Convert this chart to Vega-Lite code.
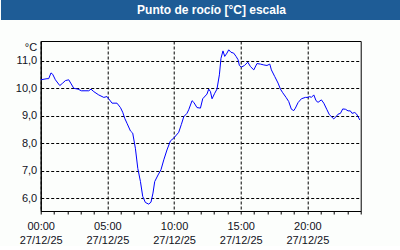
{
  "$schema": "https://vega.github.io/schema/vega-lite/v6.json",
  "background": "#FCFEFC",
  "padding": 0,
  "config": {
    "font": "Liberation Sans",
    "view": {"stroke": null},
    "axis": {"labelFont": "Liberation Sans", "titleFont": "Liberation Sans"}
  },
  "center": true,
  "spacing": 20,
  "datasets": {
    "rocio": [
      {"hora": 0.0, "rocio": 10.31},
      {"hora": 0.47, "rocio": 10.35},
      {"hora": 0.6, "rocio": 10.35},
      {"hora": 0.77, "rocio": 10.56},
      {"hora": 0.9, "rocio": 10.51},
      {"hora": 1.1, "rocio": 10.31},
      {"hora": 1.43, "rocio": 10.1},
      {"hora": 1.65, "rocio": 10.19},
      {"hora": 1.85, "rocio": 10.28},
      {"hora": 2.1, "rocio": 10.31},
      {"hora": 2.25, "rocio": 10.19},
      {"hora": 2.48, "rocio": 10.0},
      {"hora": 2.8, "rocio": 9.97},
      {"hora": 3.05, "rocio": 9.91},
      {"hora": 3.6, "rocio": 9.91},
      {"hora": 3.77, "rocio": 9.97},
      {"hora": 3.98, "rocio": 9.88},
      {"hora": 4.35, "rocio": 9.76},
      {"hora": 4.73, "rocio": 9.67},
      {"hora": 4.97, "rocio": 9.7},
      {"hora": 5.1, "rocio": 9.62},
      {"hora": 5.35, "rocio": 9.46},
      {"hora": 5.72, "rocio": 9.46},
      {"hora": 5.98, "rocio": 9.3},
      {"hora": 6.15, "rocio": 9.13},
      {"hora": 6.3, "rocio": 8.91},
      {"hora": 6.47, "rocio": 8.73},
      {"hora": 6.73, "rocio": 8.45},
      {"hora": 6.9, "rocio": 8.37},
      {"hora": 7.1, "rocio": 7.82},
      {"hora": 7.28, "rocio": 7.09},
      {"hora": 7.48, "rocio": 6.61},
      {"hora": 7.65, "rocio": 6.07},
      {"hora": 7.85, "rocio": 5.85},
      {"hora": 8.1, "rocio": 5.79},
      {"hora": 8.27, "rocio": 5.86},
      {"hora": 8.42, "rocio": 6.19},
      {"hora": 8.55, "rocio": 6.61},
      {"hora": 8.8, "rocio": 6.85},
      {"hora": 9.02, "rocio": 7.04},
      {"hora": 9.23, "rocio": 7.4},
      {"hora": 9.47, "rocio": 7.76},
      {"hora": 9.73, "rocio": 8.09},
      {"hora": 9.98, "rocio": 8.19},
      {"hora": 10.35, "rocio": 8.4},
      {"hora": 10.55, "rocio": 8.69},
      {"hora": 10.73, "rocio": 8.97},
      {"hora": 10.97, "rocio": 9.09},
      {"hora": 11.1, "rocio": 9.22},
      {"hora": 11.35, "rocio": 9.55},
      {"hora": 11.48, "rocio": 9.49},
      {"hora": 11.72, "rocio": 9.3},
      {"hora": 11.98, "rocio": 9.28},
      {"hora": 12.15, "rocio": 9.62},
      {"hora": 12.47, "rocio": 9.79},
      {"hora": 12.6, "rocio": 9.97},
      {"hora": 12.73, "rocio": 9.88},
      {"hora": 12.85, "rocio": 9.62},
      {"hora": 13.05, "rocio": 9.82},
      {"hora": 13.22, "rocio": 9.97},
      {"hora": 13.4, "rocio": 10.49},
      {"hora": 13.52, "rocio": 11.09},
      {"hora": 13.67, "rocio": 11.36},
      {"hora": 13.8, "rocio": 11.16},
      {"hora": 13.97, "rocio": 11.28},
      {"hora": 14.1, "rocio": 11.4},
      {"hora": 14.27, "rocio": 11.31},
      {"hora": 14.47, "rocio": 11.28},
      {"hora": 14.65, "rocio": 11.16},
      {"hora": 14.8, "rocio": 11.04},
      {"hora": 14.9, "rocio": 10.83},
      {"hora": 15.05, "rocio": 10.77},
      {"hora": 15.28, "rocio": 10.83},
      {"hora": 15.53, "rocio": 10.95},
      {"hora": 15.73, "rocio": 10.79},
      {"hora": 15.98, "rocio": 10.67},
      {"hora": 16.22, "rocio": 10.9},
      {"hora": 16.48, "rocio": 10.88},
      {"hora": 16.73, "rocio": 10.85},
      {"hora": 16.97, "rocio": 10.83},
      {"hora": 17.18, "rocio": 10.88},
      {"hora": 17.3, "rocio": 10.67},
      {"hora": 17.55, "rocio": 10.43},
      {"hora": 17.8, "rocio": 10.19},
      {"hora": 17.98, "rocio": 9.97},
      {"hora": 18.15, "rocio": 9.84},
      {"hora": 18.4, "rocio": 9.67},
      {"hora": 18.6, "rocio": 9.52},
      {"hora": 18.8, "rocio": 9.24},
      {"hora": 18.98, "rocio": 9.19},
      {"hora": 19.1, "rocio": 9.28},
      {"hora": 19.3, "rocio": 9.48},
      {"hora": 19.55, "rocio": 9.62},
      {"hora": 19.85, "rocio": 9.67},
      {"hora": 20.05, "rocio": 9.67},
      {"hora": 20.18, "rocio": 9.7},
      {"hora": 20.3, "rocio": 9.67},
      {"hora": 20.48, "rocio": 9.76},
      {"hora": 20.65, "rocio": 9.55},
      {"hora": 20.8, "rocio": 9.49},
      {"hora": 21.05, "rocio": 9.58},
      {"hora": 21.23, "rocio": 9.46},
      {"hora": 21.47, "rocio": 9.22},
      {"hora": 21.65, "rocio": 9.04},
      {"hora": 21.98, "rocio": 8.89},
      {"hora": 22.15, "rocio": 8.97},
      {"hora": 22.3, "rocio": 9.06},
      {"hora": 22.48, "rocio": 9.09},
      {"hora": 22.65, "rocio": 9.25},
      {"hora": 22.85, "rocio": 9.24},
      {"hora": 23.05, "rocio": 9.18},
      {"hora": 23.22, "rocio": 9.18},
      {"hora": 23.35, "rocio": 9.09},
      {"hora": 23.55, "rocio": 9.12},
      {"hora": 23.68, "rocio": 9.07},
      {"hora": 23.8, "rocio": 8.97},
      {"hora": 23.93, "rocio": 8.85}
    ]
  },
  "vconcat": [
    {
      "width": 401,
      "height": 20,
      "view": {"fill": "#1E5C96", "stroke": null},
      "data": {"values": [{"titulo": "Punto de rocío [°C] escala"}]},
      "mark": {"type": "text", "color": "white", "fontWeight": "bold", "fontSize": 12, "dx": 10, "baseline": "middle", "font": "Liberation Sans"},
      "encoding": {"text": {"field": "titulo", "type": "nominal"}}
    },
    {
      "width": 320,
      "height": 170,
      "view": {"stroke": "black", "strokeWidth": 1, "fill": "#FCFEFC"},
      "data": {"name": "rocio"},
      "mark": {"type": "line", "color": "#0000FF", "strokeWidth": 1},
      "encoding": {
        "x": {
          "field": "hora",
          "type": "quantitative",
          "scale": {"domain": [0, 24], "nice": false, "zero": false},
          "axis": {
            "title": null,
            "values": [0,1,2,3,4,5,6,7,8,9,10,11,12,13,14,15,16,17,18,19,20,21,22,23,24],
            "grid": true,
            "gridColor": "black",
            "gridDash": [3, 2],
            "gridOpacity": {"condition": {"test": "datum.value % 5 === 0", "value": 1}, "value": 0},
            "domainColor": "black",
            "tickColor": "black",
            "tickSize": 3,
            "labelPadding": 6,
            "labelFlush": false,
            "labelOverlap": false,
            "labelFontSize": 11,
            "labelColor": "#111122",
            "labelLineHeight": 14,
            "labelExpr": "datum.value % 5 === 0 && datum.value < 24 ? [(datum.value < 10 ? '0' : '') + datum.value + ':00', '27/12/25'] : ''"
          }
        },
        "y": {
          "field": "rocio",
          "type": "quantitative",
          "scale": {"domain": [5.54, 11.72], "nice": false, "zero": false},
          "axis": {
            "title": "°C",
            "titleAngle": 0,
            "titleX": -4,
            "titleY": 6,
            "titleAlign": "right",
            "titleBaseline": "middle",
            "titleFontWeight": "normal",
            "titleFontSize": 11,
            "titleColor": "#111122",
            "values": [6, 7, 8, 9, 10, 11],
            "grid": true,
            "gridColor": "black",
            "gridDash": [3, 2],
            "ticks": false,
            "domainColor": "black",
            "labelPadding": 4,
            "labelFontSize": 11,
            "labelColor": "#111122",
            "labelExpr": "replace(format(datum.value, '.1f'), '.', ',')",
            "minExtent": 40,
            "maxExtent": 40
          }
        }
      }
    }
  ]
}
